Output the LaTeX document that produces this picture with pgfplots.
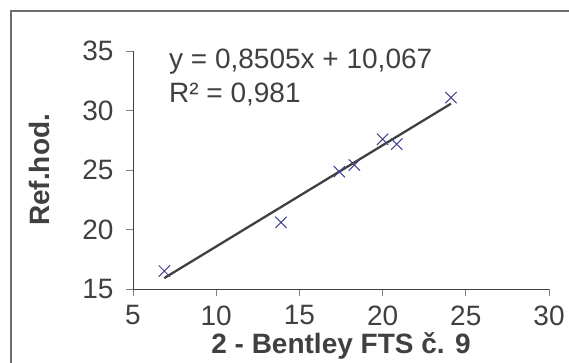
\documentclass[border=0pt]{standalone}
\usepackage{fontspec}
\setmainfont{Liberation Sans}
\usepackage{pgfplots}
\pgfplotsset{compat=1.18}
\definecolor{txt}{HTML}{404040}
\definecolor{mk}{HTML}{45458F}
\definecolor{frame}{HTML}{6E6E6E}
\begin{document}
\fontsize{28}{34}\selectfont
\begin{tikzpicture}[x=1pt,y=1pt]
\path[use as bounding box] (0,0) rectangle (569,362);
\draw[color=frame, line width=1.3pt] (11,-20) -- (11,351) -- (600,351);
\begin{axis}[
  at={(133pt,73pt)}, anchor=south west, scale only axis,
  width=416pt, height=238pt,
  xmin=5, xmax=30, ymin=15, ymax=35,
  xtick={5,10,...,30}, ytick={15,20,...,35},
  axis lines=left, axis line style={-, color=txt, line width=1pt},
  tick align=outside, major tick length=7pt,
  tick style={color=gray, line width=1pt},
  /pgf/number format/assume math mode=true,
  tick label style={font=\fontsize{28}{32}\selectfont, text=txt},
  yticklabel style={xshift=-3pt},
  label style={font=\fontsize{28}{32}\selectfont\bfseries, text=txt},
  xlabel={2 - Bentley FTS č. 9},
  ylabel={Ref.hod.},
  xlabel style={yshift=12pt},
  ylabel style={yshift=14pt},
  clip=false,
]
\addplot[only marks, mark=x, mark size=8pt, color=mk, mark options={line width=1pt}]
  coordinates {(6.88,16.51) (13.89,20.6) (17.40,24.86) (18.30,25.42) (20.0,27.58) (20.85,27.18) (24.11,31.08)};
\addplot[no marks, line width=2.3pt, color=txt]
  coordinates {(6.88,15.918) (24.11,30.573)};
\node[anchor=north west, align=left, text=txt, inner sep=0pt,
  font=\fontsize{28}{34}\selectfont] at (axis cs:7.16,35.2)
  {y = 0,8505x + 10,067\\R² = 0,981};
\end{axis}
\end{tikzpicture}
\end{document}
